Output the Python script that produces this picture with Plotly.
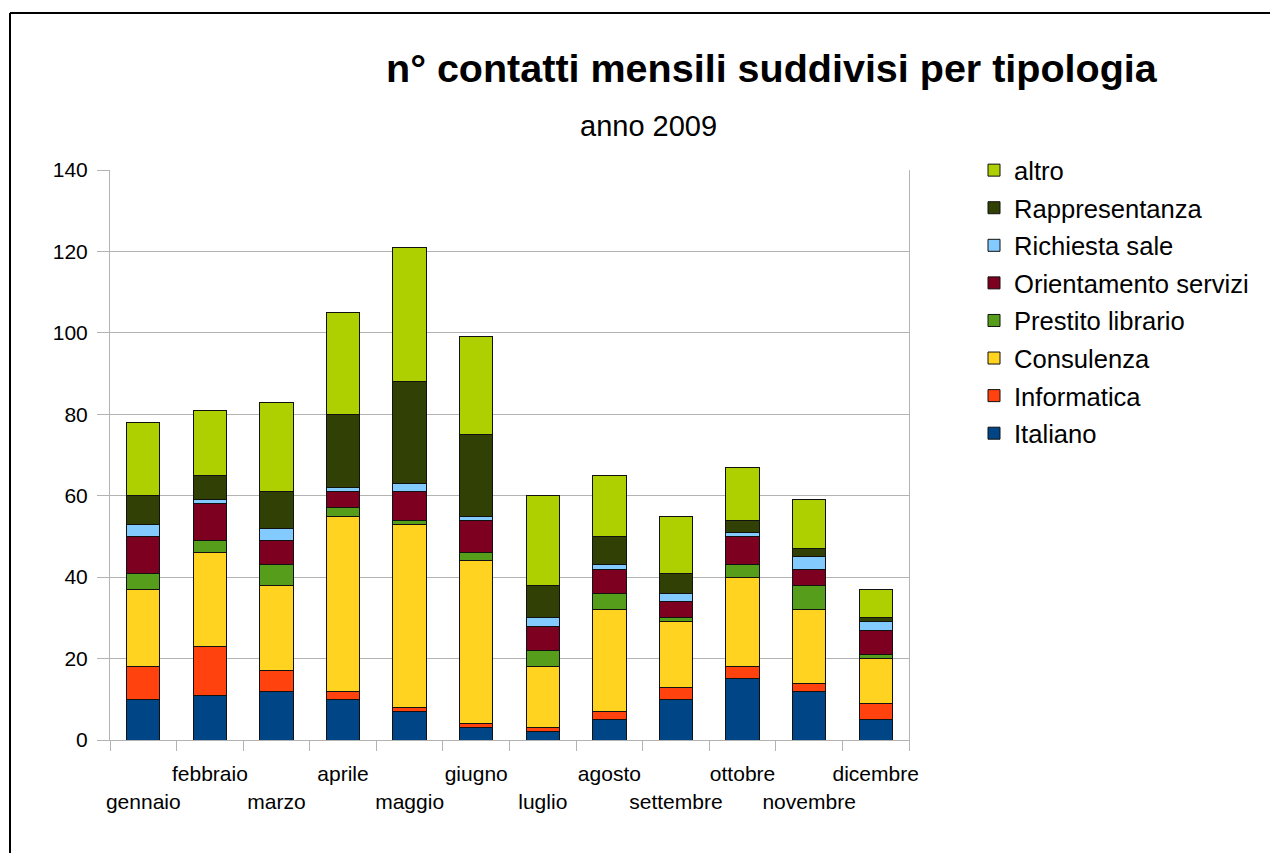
import plotly.graph_objects as go

months = ["gennaio", "febbraio", "marzo", "aprile", "maggio", "giugno",
          "luglio", "agosto", "settembre", "ottobre", "novembre", "dicembre"]

italiano = [10, 11, 12, 10, 7, 3, 2, 5, 10, 15, 12, 5]
informatica = [8, 12, 5, 2, 1, 1, 1, 2, 3, 3, 2, 4]
consulenza = [19, 23, 21, 43, 45, 40, 15, 25, 16, 22, 18, 11]
prestito_librario = [4, 3, 5, 2, 1, 2, 4, 4, 1, 3, 6, 1]
orientamento_servizi = [9, 9, 6, 4, 7, 8, 6, 6, 4, 7, 4, 6]
richiesta_sale = [3, 1, 3, 1, 2, 1, 2, 1, 2, 1, 3, 2]
rappresentanza = [7, 6, 9, 18, 25, 20, 8, 7, 5, 3, 2, 1]
altro = [18, 16, 22, 25, 33, 24, 22, 15, 14, 13, 12, 7]

series = [
    ("Italiano", italiano, "#004586"),
    ("Informatica", informatica, "#ff420e"),
    ("Consulenza", consulenza, "#ffd320"),
    ("Prestito librario", prestito_librario, "#579d1c"),
    ("Orientamento servizi", orientamento_servizi, "#7e0021"),
    ("Richiesta sale", richiesta_sale, "#83caff"),
    ("Rappresentanza", rappresentanza, "#314004"),
    ("altro", altro, "#aecf00"),
]

y_ticks = [0, 20, 40, 60, 80, 100, 120, 140]

# staggered month labels: odd positions (gennaio, marzo, ...) on the lower row
tick_text = [("&nbsp;<br>" + m) if i % 2 == 0 else m for i, m in enumerate(months)]

FONT = "Liberation Sans, Arial, sans-serif"

fig = go.Figure()
n = len(series)
for i, (name, vals, col) in enumerate(series):
    fig.add_trace(go.Bar(
        x=months, y=vals, name=name, legendgroup=name,
        legendrank=n - i,
        marker=dict(color=col, line=dict(color="#111111", width=1)),
    ))

# page has an 8px body margin
OFF = 8
W, H = 1278 - OFF, 853 - OFF
L, T = 110 - OFF, 170 - OFF
R = W - (909 - OFF)
B = H - (740 - OFF)
pw, ph = W - L - R, H - T - B

def px(x):  # page pixel -> paper
    return (x - OFF - L) / pw

def py(y):
    return (H - B - (y - OFF)) / ph

fig.update_layout(
    width=W, height=H,
    barmode="stack", bargap=0.5,
    paper_bgcolor="white", plot_bgcolor="white",
    margin=dict(l=L, r=R, t=T, b=B, autoexpand=False),
    font=dict(family=FONT, color="black", size=21),
    showlegend=True,
    legend=dict(
        traceorder="grouped", tracegroupgap=1.3,
        x=px(974), y=py(147), xanchor="left", yanchor="top",
        font=dict(size=25.6, family=FONT, color="black"),
        bgcolor="rgba(0,0,0,0)",
    ),
    annotations=[
        dict(text="<b>n° contatti mensili suddivisi per tipologia</b>",
             xref="paper", yref="paper", x=px(772), y=py(68),
             xanchor="center", yanchor="middle", showarrow=False,
             font=dict(size=39.5, family=FONT, color="black")),
        dict(text="anno 2009",
             xref="paper", yref="paper", x=px(648), y=py(126),
             xanchor="center", yanchor="middle", showarrow=False,
             font=dict(size=29, family=FONT, color="black")),
    ],
    shapes=[
        dict(type="line", xref="paper", yref="paper",
             x0=px(10), x1=px(1400), y0=py(13), y1=py(13),
             line=dict(color="black", width=2)),
        dict(type="line", xref="paper", yref="paper",
             x0=px(10), x1=px(10), y0=py(13), y1=py(1000),
             line=dict(color="black", width=2)),
    ],
)

fig.update_xaxes(
    type="category",
    tickmode="array", tickvals=months, ticktext=tick_text,
    ticks="outside", tickson="boundaries", ticklen=10,
    tickcolor="#b3b3b3", tickwidth=1,
    showline=True, linecolor="#b3b3b3", linewidth=1,
    showgrid=False,
    tickfont=dict(size=21, family=FONT, color="black"),
    tickangle=0, ticklabelstandoff=15,
)

fig.update_yaxes(
    range=[0, 140], tickmode="array", tickvals=y_ticks,
    ticks="outside", ticklen=12, tickcolor="#b3b3b3", tickwidth=1,
    showline=True, linecolor="#b3b3b3", linewidth=1, mirror=True,
    showgrid=True, gridcolor="#b3b3b3", gridwidth=1,
    zeroline=False,
    tickfont=dict(size=21, family=FONT, color="black"),
    ticklabelstandoff=5,
)

fig.write_html("out.html")
